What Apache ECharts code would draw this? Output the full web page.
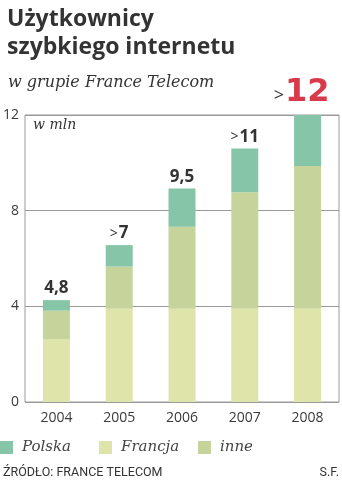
<!DOCTYPE html>
<html>
<head>
<meta charset="utf-8">
<script src="https://cdn.jsdelivr.net/npm/echarts@6/dist/echarts.min.js"></script>
<style>
html,body{margin:0;padding:0;background:#fff;}
#c{width:342px;height:480px;}
</style>
</head>
<body>
<div id="c"></div>
<script>
var categories = ['2004', '2005', '2006', '2007', '2008'];
var francja = [2.62, 3.9, 3.9, 3.9, 3.9];
var inne = [1.2, 1.76, 3.43, 4.87, 5.97];
var polska = [0.44, 0.9, 1.6, 1.83, 2.13];
var totalLabels = ['4,8', '>7', '9,5', '>11', '>12'];
var yTicks = [0, 4, 8, 12];

var cPolska = '#86c5a8';
var cFrancja = '#dee4aa';
var cInne = '#c6d39a';

var chart = echarts.init(document.getElementById('c'), null, {renderer: 'canvas'});

function labelFor(i) {
  var t = totalLabels[i];
  var gt = t.charAt(0) === '>';
  var num = gt ? t.slice(1) : t;
  if (i === totalLabels.length - 1) {
    return (gt ? '{gtBig|>}' : '') + '{big|' + num + '}';
  }
  return (gt ? '{gt|>}' : '') + '{num|' + num + '}';
}

var polskaData = polska.map(function (v, i) {
  var item = {value: v};
  if (i === polska.length - 1) {
    item.label = {offset: [-6, -3]};
  }
  return item;
});

var option = {
  backgroundColor: '#fff',
  animation: false,
  title: [
    {
      text: 'Użytkownicy\nszybkiego internetu',
      left: 2, top: 0,
      textStyle: {fontFamily: 'Open Sans', fontWeight: 'bold', fontSize: 23, lineHeight: 28, color: '#333'}
    },
    {
      text: 'w grupie France Telecom',
      left: 3, top: 70,
      textStyle: {fontFamily: 'DejaVu Serif', fontStyle: 'italic', fontWeight: 'normal', fontSize: 16, color: '#333'}
    }
  ],
  legend: [
    {data: ['Polska'], left: 0, top: 440},
    {data: ['Francja'], left: 99, top: 440},
    {data: ['inne'], left: 198, top: 440}
  ].map(function (l) {
    return Object.assign(l, {
      icon: 'rect', itemWidth: 13, itemHeight: 13, padding: 0,
      textStyle: {fontFamily: 'DejaVu Serif', fontStyle: 'italic', fontSize: 15, color: '#444', padding: [0, 0, 0, 4]}
    });
  }),
  grid: {
    left: 25, right: 3, top: 115, bottom: 78,
    show: true, borderColor: '#9a9a9a', borderWidth: 1, containLabel: false
  },
  xAxis: {
    type: 'category',
    data: categories,
    axisLine: {show: false},
    axisTick: {show: false},
    axisLabel: {fontFamily: 'Open Sans', fontSize: 14, color: '#3a3a3a', margin: 9}
  },
  yAxis: {
    type: 'value',
    min: yTicks[0], max: yTicks[yTicks.length - 1], interval: 4,
    axisLine: {show: false},
    axisTick: {show: false},
    axisLabel: {fontFamily: 'Open Sans', fontSize: 14, color: '#3a3a3a', margin: 6},
    splitLine: {lineStyle: {color: '#9a9a9a', width: 1}}
  },
  series: [
    {
      name: 'Francja', type: 'bar', stack: 'a', barWidth: 27,
      itemStyle: {color: cFrancja}, data: francja
    },
    {
      name: 'inne', type: 'bar', stack: 'a', barWidth: 27,
      itemStyle: {color: cInne}, data: inne
    },
    {
      name: 'Polska', type: 'bar', stack: 'a', barWidth: 27,
      itemStyle: {color: cPolska}, data: polskaData,
      label: {
        show: true, position: 'top', distance: 3,
        formatter: function (p) { return labelFor(p.dataIndex); },
        rich: {
          gt: {fontFamily: 'Open Sans', fontSize: 14, color: '#333', padding: [0, 1, 0, 0]},
          num: {fontFamily: 'Open Sans', fontWeight: 'bold', fontSize: 17, color: '#333'},
          gtBig: {fontFamily: 'Open Sans', fontSize: 18, color: '#333', padding: [6, 1, 0, 0]},
          big: {fontFamily: 'DejaVu Sans', fontWeight: 'bold', fontSize: 32, color: '#d93a4a'}
        }
      }
    }
  ],
  graphic: [
    {
      type: 'text', left: 33, top: 118,
      style: {text: 'w mln', fontFamily: 'DejaVu Serif', fontStyle: 'italic', fontSize: 14, fill: '#333'}
    },
    {
      type: 'text', left: 3, top: 466,
      style: {text: 'ŹRÓDŁO: FRANCE TELECOM', fontFamily: 'Roboto', fontSize: 12.5, fill: '#333'}
    },
    {
      type: 'text', right: 3, top: 466,
      style: {text: 'S.F.', fontFamily: 'Roboto', fontSize: 12.5, fill: '#333'}
    }
  ]
};
chart.setOption(option);
</script>
</body>
</html>
